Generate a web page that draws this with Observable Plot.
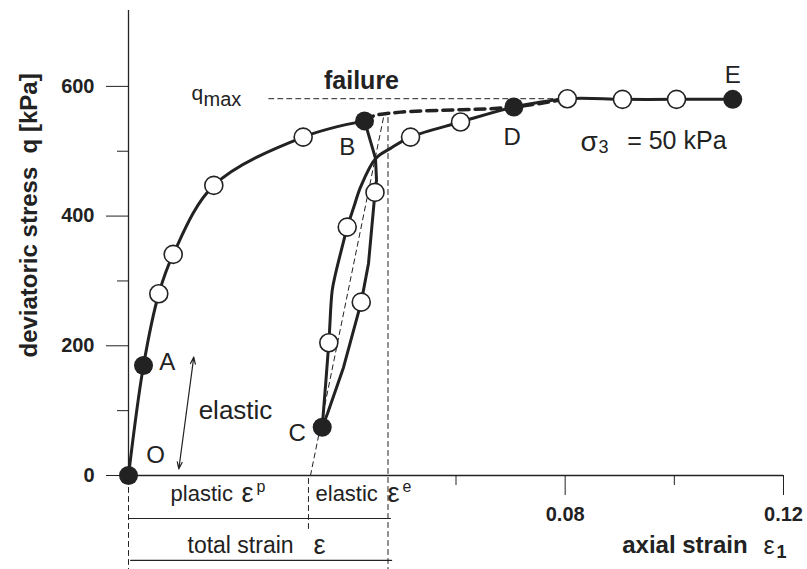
<!DOCTYPE html>
<html><head><meta charset="utf-8">
<script src="https://cdn.jsdelivr.net/npm/d3@7"></script>
<script src="https://cdn.jsdelivr.net/npm/@observablehq/plot@0.6"></script>
<style>body{margin:0;background:#fff} svg{display:block}</style>
</head><body><div id="chart"></div>
<script>
// ---- data (axial strain, deviatoric stress q [kPa]) ----
const loadingPath = [[0,0],[0.00275,169.7],[0.00555,280.3],[0.00819,340.9],[0.01563,447.3],[0.0320,521.8],[0.04324,546.8]];
const unloadingPath = [[0.04324,546.8],[0.04525,489],[0.04544,455],[0.04516,436.5],[0.04397,327],[0.04264,267.3],[0.03939,166.6],[0.03646,95.6],[0.03549,74.5]];
const reloadingPath = [[0.03549,74.5],[0.0367,204.7],[0.03732,285.4],[0.03793,311.1],[0.03945,362.5],[0.04007,383],[0.04128,413.9],[0.04251,444.7],[0.04525,488.5],[0.048,504.4],[0.05167,521.8],[0.06083,545],[0.0706,568.1],[0.0804,581],[0.0905,580],[0.1004,580],[0.1107,580]];
const extrapolated = [[0.04324,546.8],[0.04489,554.4],[0.04983,560.3],[0.0706,568.1],[0.0804,581]];
const openPoints = [[0.00555,280.3],[0.00819,340.9],[0.01563,447.3],[0.0320,521.8],[0.04516,436.5],[0.04264,267.3],[0.0367,204.7],[0.04007,383],[0.05167,521.8],[0.06083,545],[0.0804,581],[0.0905,580],[0.1004,580]];
const keyPoints = [
  {name:"O", x:0, y:0}, {name:"A", x:0.00275, y:169.7}, {name:"B", x:0.04324, y:546.8},
  {name:"C", x:0.03549, y:74.5}, {name:"D", x:0.0706, y:568.1}, {name:"E", x:0.1107, y:580}
];
const qmax = 581;
const yTicks = [0,200,400,600];
const yMinorTicks = [100,300,500];
const xTicks = [0.08,0.12];
const xMinorTicks = [0.06,0.10];

// guide lines
const qmaxLine = [[0.0257,qmax],[0.0804,qmax]];
const secantLine = [[0.03334,0],[0.04672,552]];
const elasticEnd = [[0.04754,552],[0.04754,-145]];
const originGuide = [[0,-4.6],[0,-145]];
const plasticEnd = [[0.03297,-4.6],[0.03297,-84.8]];
const partsBar = [[0,-66.3],[0.0480,-66.3]];
const totalBar = [[0.0004,-131],[0.0482,-131]];
const arrowMid = [0.01059,96.4], arrowTop = [0.01196,182.5], arrowBottom = [0.00922,10.3];

// labels
const pointLabels = [
  {t:"O", x:0.00495, y:30.8}, {t:"A", x:0.00709, y:174.7}, {t:"B", x:0.04007, y:506.3},
  {t:"C", x:0.03091, y:64.3}, {t:"D", x:0.0703, y:521.7}, {t:"E", x:0.1107, y:616.8}
];
const centeredNotes = [
  {t:"elastic", x:0.0196, y:100.2, s:26}
];
const startNotes = [
  {t:"q", x:0.01154, y:589, s:21},
  {t:"max", x:0.01374, y:579.8, s:20},
  {t:"σ", x:0.08281, y:514, s:28},
  {t:"3", x:0.0861, y:505.5, s:18},
  {t:"= 50 kPa", x:0.09136, y:515.4, s:25},
  {t:"plastic", x:0.0077, y:-27.8, s:22},
  {t:"ε", x:0.0207, y:-27.8, s:27},
  {t:"p", x:0.02345, y:-17, s:16},
  {t:"elastic", x:0.03426, y:-27.8, s:22},
  {t:"ε", x:0.04745, y:-27.8, s:27},
  {t:"e", x:0.0502, y:-17, s:16},
  {t:"total strain", x:0.01081, y:-108, s:23},
  {t:"ε", x:0.0339, y:-108, s:27},
  {t:"ε", x:0.11634, y:-108, s:25}
];
const boldCentered = [{t:"failure", x:0.04269, y:607.6, s:25}];
const boldStart = [
  {t:"axial strain", x:0.09045, y:-108, s:24},
  {t:"1", x:0.11872, y:-118.7, s:18}
];
const yTitle = [{t:"deviatoric stress  q [kPa]", x:-0.01814, y:401}];

const ink = "#222";
const FONT = "'Liberation Sans', Arial, Helvetica, sans-serif";
const X = d => d[0], Y = d => d[1];
const dashed = {x: X, y: Y, stroke: ink, strokeWidth: 1, strokeDasharray: "5,4"};

const chart = Plot.plot({
  width: 807, height: 569,
  marginLeft: 128, marginRight: 24, marginTop: 10, marginBottom: 94,
  x: {domain: [0, 0.12]},
  y: {domain: [0, 717]},
  style: {fontFamily: FONT, background: "#fff", color: ink},
  marks: [
    // guides
    Plot.line(qmaxLine, dashed),
    Plot.line(secantLine, dashed),
    Plot.line(elasticEnd, dashed),
    Plot.line(originGuide, dashed),
    Plot.line(plasticEnd, dashed),
    Plot.line(partsBar, {x: X, y: Y, stroke: ink, strokeWidth: 1.2}),
    Plot.line(totalBar, {x: X, y: Y, stroke: ink, strokeWidth: 1.2}),
    Plot.line(extrapolated, {x: X, y: Y, stroke: ink, strokeWidth: 3.5, strokeDasharray: "10,6", curve: "catmull-rom"}),
    // axes
    Plot.ruleX([0], {stroke: ink, strokeWidth: 1.3}),
    Plot.ruleY([0], {stroke: ink, strokeWidth: 1.3}),
    Plot.axisY(yTicks, {tickSize: 22, tickPadding: 12, fontSize: 20, fontWeight: "bold", label: null, tickFormat: d => String(d), stroke: ink, fill: ink}),
    Plot.axisY(yMinorTicks, {tickSize: 11, label: null, tickFormat: () => "", stroke: ink}),
    Plot.axisX(xTicks, {tickSize: 20, tickPadding: 11, fontSize: 20, fontWeight: "bold", label: null, tickFormat: d => d.toFixed(2), stroke: ink, fill: ink}),
    Plot.axisX(xMinorTicks, {tickSize: 10, label: null, tickFormat: () => "", stroke: ink}),
    // curves
    Plot.line(loadingPath, {x: X, y: Y, stroke: ink, strokeWidth: 3, curve: "catmull-rom"}),
    Plot.line(unloadingPath, {x: X, y: Y, stroke: ink, strokeWidth: 3}),
    Plot.line(reloadingPath, {x: X, y: Y, stroke: ink, strokeWidth: 3, curve: "catmull-rom"}),
    Plot.dot(openPoints, {x: X, y: Y, r: 9, fill: "#fff", stroke: ink, strokeWidth: 1.6}),
    Plot.dot(keyPoints, {x: "x", y: "y", r: 9.5, fill: ink, stroke: "none"}),
    // arrow
    Plot.arrow([[arrowMid, arrowTop], [arrowMid, arrowBottom]], {x1: d => d[0][0], y1: d => d[0][1], x2: d => d[1][0], y2: d => d[1][1], stroke: ink, strokeWidth: 1.2, headLength: 9, headAngle: 40}),
    // text
    Plot.text(pointLabels, {x: "x", y: "y", text: "t", fontSize: 24, fill: ink}),
    Plot.text(centeredNotes, {x: "x", y: "y", text: "t", textAnchor: "middle", fontSize: "s", fill: ink}),
    Plot.text(startNotes, {x: "x", y: "y", text: "t", textAnchor: "start", fontSize: "s", fill: ink}),
    Plot.text(boldCentered, {x: "x", y: "y", text: "t", textAnchor: "middle", fontSize: "s", fontWeight: "bold", fill: ink}),
    Plot.text(boldStart, {x: "x", y: "y", text: "t", textAnchor: "start", fontSize: "s", fontWeight: "bold", fill: ink}),
    Plot.text(yTitle, {x: "x", y: "y", text: "t", rotate: -90, fontSize: 24, fontWeight: "bold", fill: ink})
  ]
});
document.getElementById("chart").appendChild(chart);
</script></body></html>
